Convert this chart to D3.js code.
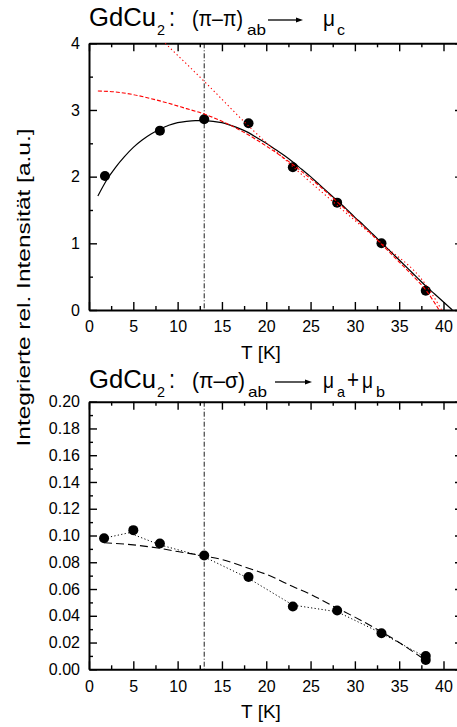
<!DOCTYPE html>
<html>
<head>
<meta charset="utf-8">
<script src="https://cdn.jsdelivr.net/npm/d3@7"></script>
<style>
  body { margin: 0; background: #fff; }
  svg { display: block; font-family: "Liberation Sans", Arial, sans-serif; }
</style>
</head>
<body>
<div id="chart"></div>
<script>
// ---- data ----
var tempTop = [1.8, 8, 13, 18, 23, 28, 33, 38];
var intensityTop = [2.01, 2.69, 2.86, 2.80, 2.14, 1.61, 1.00, 0.29];

// black fit curve (top)
var fitTempTop = [1, 2, 3, 4, 5, 6, 7, 8, 9, 10, 11, 12, 13, 14, 15, 16, 17, 18, 19, 20, 21, 22, 23, 24, 25, 26, 27, 28, 29, 30, 31, 32, 33, 34, 35, 36, 37, 38, 39, 40, 41];
var fitIntTop = [1.71, 1.95, 2.14, 2.30, 2.44, 2.55, 2.64, 2.71, 2.77, 2.81, 2.83, 2.84, 2.84, 2.83, 2.81, 2.77, 2.72, 2.66, 2.58, 2.50, 2.41, 2.32, 2.22, 2.11, 2.00, 1.88, 1.76, 1.64, 1.52, 1.39, 1.27, 1.14, 1.01, 0.88, 0.75, 0.62, 0.49, 0.36, 0.24, 0.12, 0.0];

// red dashed curve (top)
var redDashTemp = [1, 3, 5, 7, 9, 11, 13, 15, 17, 20, 23, 26, 29, 32, 35, 37, 38, 39.5];
var redDashInt = [3.285, 3.27, 3.23, 3.17, 3.10, 3.02, 2.94, 2.83, 2.70, 2.46, 2.18, 1.86, 1.50, 1.12, 0.72, 0.45, 0.30, 0.0];

// red dotted curve (top)
var redDotTemp = [8.6, 13, 18, 23, 28, 33, 38, 39.8];
var redDotInt = [4.0, 3.43, 2.76, 2.15, 1.57, 1.00, 0.38, 0.0];

var tempBottom = [1.7, 5, 8, 13, 18, 23, 28, 33, 38, 38];
var intensityBottom = [0.098, 0.104, 0.094, 0.085, 0.069, 0.047, 0.044, 0.027, 0.010, 0.007];

// dotted guide line (bottom)
var dotTempBottom = [1.7, 4.5, 8, 13, 18, 23, 28, 33, 38];
var dotIntBottom = [0.098, 0.102, 0.093, 0.084, 0.068, 0.048, 0.043, 0.027, 0.009];

// dashed fit (bottom)
var dashTempBottom = [1.7, 5, 8, 10, 13, 15, 18, 20, 23, 25, 28, 30, 33, 35, 37.8];
var dashIntBottom = [0.0946, 0.093, 0.0904, 0.088, 0.0847, 0.082, 0.0755, 0.071, 0.0618, 0.056, 0.0456, 0.039, 0.028, 0.020, 0.0075];

var xTicks = [0, 5, 10, 15, 20, 25, 30, 35, 40];
var yTicksTop = [0, 1, 2, 3, 4];
var yTicksBottom = [0, 0.02, 0.04, 0.06, 0.08, 0.10, 0.12, 0.14, 0.16, 0.18, 0.20];
var transitionT = 13;

// ---- layout ----
var svgWidth = 457;
var svgHeight = 727;

var svg = d3.select("#chart")
  .append("svg")
  .attr("width", svgWidth)
  .attr("height", svgHeight);

var zip = function (a, b) { return a.map(function (v, i) { return [v, b[i]]; }); };

// one panel = frame, ticks, vertical marker
function panel(opts) {
  var x = d3.scaleLinear().domain([0, 42.2]).range([89, 463]);
  var y = d3.scaleLinear().domain(opts.yDomain).range([opts.bottom, opts.top]);
  var g = svg.append("g");

  var minorX = d3.range(0, 42.5, 2.5).filter(function (d) { return d % 5 !== 0; });
  var minorY = opts.minorY;

  function style(sel) {
    sel.attr("font-size", 16).attr("font-family", null);
    sel.select(".domain").attr("stroke-width", 2);
    sel.selectAll(".tick line").attr("stroke-width", 1.4);
    sel.selectAll(".tick text").attr("fill", "#000");
  }

  // bottom axis with labels
  g.append("g").attr("transform", "translate(0," + opts.bottom + ")")
    .call(d3.axisBottom(x).tickValues(xTicks).tickSize(-8).tickSizeOuter(0).tickPadding(11).tickFormat(d3.format("d")))
    .call(style);
  g.append("g").attr("transform", "translate(0," + opts.bottom + ")")
    .call(d3.axisBottom(x).tickValues(minorX).tickSize(-4).tickSizeOuter(0).tickFormat(""))
    .call(style).select(".domain").remove();
  // top border
  g.append("g").attr("transform", "translate(0," + opts.top + ")")
    .call(d3.axisTop(x).tickValues(xTicks).tickSize(-8).tickSizeOuter(0).tickFormat(""))
    .call(style);
  g.append("g").attr("transform", "translate(0," + opts.top + ")")
    .call(d3.axisTop(x).tickValues(minorX).tickSize(-4).tickSizeOuter(0).tickFormat(""))
    .call(style).select(".domain").remove();
  // left axis with labels
  g.append("g").attr("transform", "translate(89,0)")
    .call(d3.axisLeft(y).tickValues(opts.yTicks).tickSize(-8).tickSizeOuter(0).tickPadding(9).tickFormat(opts.fmt))
    .call(style);
  g.append("g").attr("transform", "translate(89,0)")
    .call(d3.axisLeft(y).tickValues(minorY).tickSize(-4).tickSizeOuter(0).tickFormat(""))
    .call(style).select(".domain").remove();
  // right border (mostly off the picture)
  g.append("g").attr("transform", "translate(463,0)")
    .call(d3.axisRight(y).tickValues(opts.yTicks).tickSize(-8).tickSizeOuter(0).tickFormat(""))
    .call(style);

  // transition temperature marker
  g.append("line")
    .attr("x1", x(transitionT)).attr("x2", x(transitionT))
    .attr("y1", y(opts.yDomain[1])).attr("y2", y(opts.yDomain[0]))
    .attr("stroke", "#000").attr("stroke-width", 0.9)
    .attr("stroke-dasharray", "5,2,1,2");

  // axis title
  svg.append("text")
    .attr("x", 261).attr("y", opts.bottom + 49)
    .attr("text-anchor", "middle")
    .attr("font-size", 19)
    .text("T [K]");

  return { x: x, y: y, g: g };
}

// title with sub scripts, pieces placed by hand: [text, x, width, isSub, size]
function title(baseline, parts, arrow) {
  parts.forEach(function (p) {
    svg.append("text")
      .attr("x", p[1])
      .attr("y", baseline + (p[3] ? 9 : 0))
      .attr("font-size", p[4] || (p[3] ? 15 : 25))
      .attr("textLength", p[2])
      .attr("lengthAdjust", "spacingAndGlyphs")
      .text(p[0]);
  });
  var ay = baseline - 6;
  svg.append("line").attr("x1", arrow[0]).attr("x2", arrow[1] - 5)
    .attr("y1", ay).attr("y2", ay).attr("stroke", "#000").attr("stroke-width", 1.3);
  svg.append("path")
    .attr("d", "M" + (arrow[1] - 7) + "," + (ay - 2.5) + "L" + arrow[1] + "," + ay + "L" + (arrow[1] - 7) + "," + (ay + 2.5) + "Z")
    .attr("fill", "#000");
}

// ---- top panel ----
var topPanel = panel({
  top: 43.3, bottom: 310, yDomain: [0, 4], yTicks: yTicksTop,
  minorY: [0.5, 1.5, 2.5, 3.5], fmt: d3.format("d")
});

topPanel.g.selectAll("circle")
  .data(zip(tempTop, intensityTop))
  .enter()
  .append("circle")
  .attr("cx", function (d) { return topPanel.x(d[0]); })
  .attr("cy", function (d) { return topPanel.y(d[1]); })
  .attr("r", 5)
  .attr("fill", "#000");

var lineTop = d3.line()
  .x(function (d) { return topPanel.x(d[0]); })
  .y(function (d) { return topPanel.y(d[1]); })
  .curve(d3.curveMonotoneX);

topPanel.g.append("path").datum(zip(fitTempTop, fitIntTop))
  .attr("d", lineTop).attr("fill", "none").attr("stroke", "#000").attr("stroke-width", 1.2);
topPanel.g.append("path").datum(zip(redDashTemp, redDashInt))
  .attr("d", lineTop).attr("fill", "none").attr("stroke", "#ff0000").attr("stroke-width", 1.1)
  .attr("stroke-dasharray", "4,2");
topPanel.g.append("path").datum(zip(redDotTemp, redDotInt))
  .attr("d", lineTop).attr("fill", "none").attr("stroke", "#ff0000").attr("stroke-width", 1.1)
  .attr("stroke-dasharray", "1.3,2.7");

title(26, [
  ["GdCu", 89, 67], ["2", 157, 8, true], [":", 169, 6], ["(\u03c0\u2013\u03c0)", 192, 51, false, 22],
  ["ab", 247, 19, true], ["\u03bc", 323, 12, false, 22], ["c", 337, 8, true]
], [268, 303]);

// ---- bottom panel ----
var bottomPanel = panel({
  top: 401.7, bottom: 669.3, yDomain: [0, 0.2], yTicks: yTicksBottom,
  minorY: d3.range(0.01, 0.2, 0.02), fmt: d3.format(".2f")
});

var lineBottom = d3.line()
  .x(function (d) { return bottomPanel.x(d[0]); })
  .y(function (d) { return bottomPanel.y(d[1]); });

bottomPanel.g.selectAll("circle")
  .data(zip(tempBottom, intensityBottom))
  .enter()
  .append("circle")
  .attr("cx", function (d) { return bottomPanel.x(d[0]); })
  .attr("cy", function (d) { return bottomPanel.y(d[1]); })
  .attr("r", 5)
  .attr("fill", "#000");

bottomPanel.g.append("path").datum(zip(dashTempBottom, dashIntBottom))
  .attr("d", lineBottom.curve(d3.curveMonotoneX)).attr("fill", "none").attr("stroke", "#000").attr("stroke-width", 1.1)
  .attr("stroke-dasharray", "8,4");
bottomPanel.g.append("path").datum(zip(dotTempBottom, dotIntBottom))
  .attr("d", lineBottom.curve(d3.curveLinear)).attr("fill", "none").attr("stroke", "#000").attr("stroke-width", 1)
  .attr("stroke-dasharray", "1.2,2.3");

title(388, [
  ["GdCu", 89, 67], ["2", 157, 8, true], [":", 169, 6], ["(\u03c0\u2013\u03c3)", 192, 53, false, 22],
  ["ab", 248, 19, true], ["\u03bc", 323, 11, false, 22], ["a", 337, 8, true], ["+", 347, 12],
  ["\u03bc", 362, 11, false, 22], ["b", 376, 9, true]
], [275, 312]);

// shared y axis label
svg.append("text")
  .attr("transform", "translate(29.5,287.5) rotate(-90)")
  .attr("text-anchor", "middle")
  .attr("font-size", 19)
  .attr("textLength", 318)
  .attr("lengthAdjust", "spacingAndGlyphs")
  .text("Integrierte rel. Intensit\u00e4t [a.u.]");
</script>
</body>
</html>
